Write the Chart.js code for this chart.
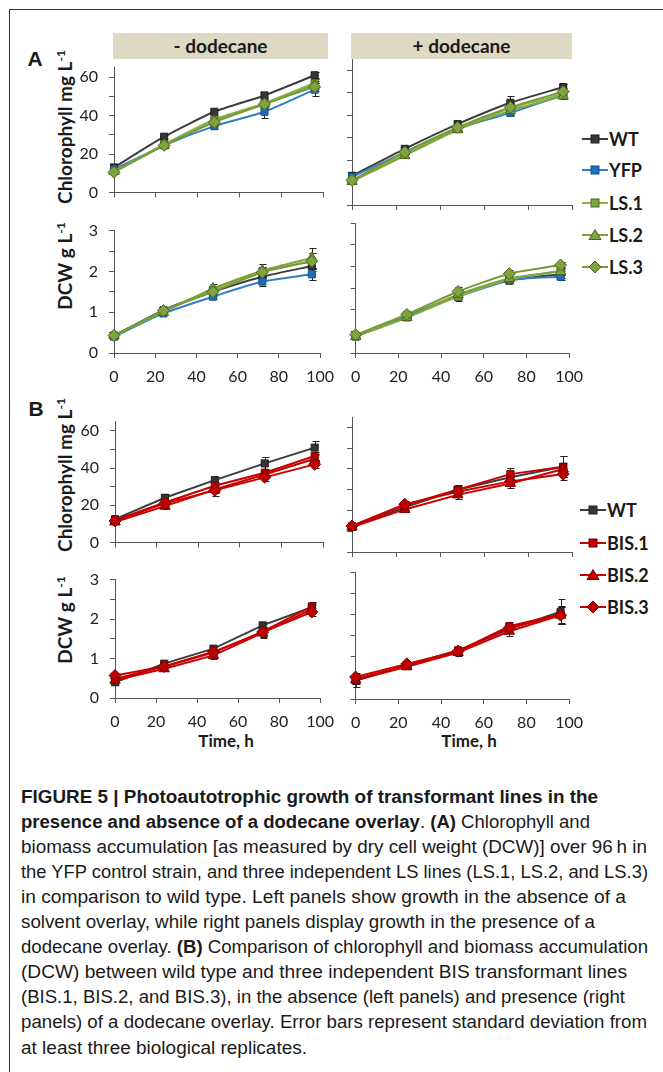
<!DOCTYPE html>
<html>
<head>
<meta charset="utf-8">
<script src="https://cdn.jsdelivr.net/npm/chart.js@4.4.1/dist/chart.umd.min.js"></script>
<style>
  body { margin: 0; width: 663px; height: 1072px; position: relative; overflow: hidden; background: #fff; color: #1a1a1a; font-family: Lato, "Open Sans", sans-serif; }
  canvas { position: absolute; }
  .frame { position: absolute; left: 9px; top: 9px; width: 700px; height: 1100px; border-left: 1px solid #333; border-top: 1px solid #333; }
  .hdr { position: absolute; top: 33px; height: 26px; line-height: 26px; background: #ddd9c3; font-weight: bold; font-size: 19px; text-align: center; }
  .letter { position: absolute; font-family: "Liberation Sans", Arial, sans-serif; font-weight: bold; font-size: 21px; transform: translate(-50%, -50%); }
  .ytitle { position: absolute; font-weight: bold; font-size: 19px; white-space: nowrap; transform: translate(-50%, -50%) rotate(-90deg); }
  .ytitle sup { font-size: 12px; vertical-align: 7px; }
  .xtitle { position: absolute; font-weight: bold; font-size: 17px; white-space: nowrap; transform: translate(-50%, -50%); }
  .leg { position: absolute; display: flex; align-items: center; font-weight: bold; font-size: 18px; white-space: nowrap; transform: translateY(-50%); }
  .leg svg { margin-right: 1px; }
  .cap { position: absolute; left: 21px; font-family: "Liberation Sans", Arial, sans-serif; font-size: 17.5px; line-height: 25px; white-space: nowrap; transform-origin: left center; color: #1a1a1a; }
</style>
</head>
<body>
<div class="frame"></div>
<div class="hdr" style="left:113px;width:215px">- dodecane</div>
<div class="hdr" style="left:351px;width:221px">+ dodecane</div>
<div class="letter" style="left:35px;top:59px">A</div>
<div class="letter" style="left:36px;top:409px">B</div>
<div class="ytitle" style="left:64px;top:127px">Chlorophyll mg L<sup>-1</sup></div>
<div class="ytitle" style="left:64px;top:266px">DCW g L<sup>-1</sup></div>
<div class="ytitle" style="left:64px;top:475px">Chlorophyll mg L<sup>-1</sup></div>
<div class="ytitle" style="left:64px;top:620px">DCW g L<sup>-1</sup></div>
<div class="xtitle" style="left:226px;top:740px">Time, h</div>
<div class="xtitle" style="left:469px;top:740px">Time, h</div>
<div id="legends"></div>
<div id="caption"></div>

<script>
// sampling times (h)
const hours = [0, 24, 48, 72, 96];

// Panel A series, in legend order
const seriesA = ['WT', 'YFP', 'LS.1', 'LS.2', 'LS.3'];
// Panel B series
const seriesB = ['WT', 'BIS.1', 'BIS.2', 'BIS.3'];

// A, chlorophyll, - dodecane
const aChlMinus = [
  [13, 29, 42, 50.5, 61],
  [12, 24.5, 34.5, 42, 53.5],
  [11, 25, 38, 46.5, 57],
  [11, 24.5, 37, 46, 56],
  [10.5, 24.5, 36.5, 46, 55]
];
const aChlMinusSD = [
  [1, 1, 1.5, 1.5, 1.5],
  [1, 1, 1.5, 3, 3.5],
  [1, 1.5, 2, 2, 2],
  [1, 1.5, 2, 2, 2],
  [1, 1.5, 2, 2, 2]
];
// A, chlorophyll, + dodecane
const aChlPlus = [
  [13, 25, 36, 45.5, 52.5],
  [12.5, 23.5, 34, 41, 49],
  [11, 22.5, 34, 43, 49.5],
  [10.5, 22, 33.5, 42, 48.5],
  [11, 23.5, 34.5, 43.5, 50.5]
];
const aChlPlusSD = [
  [1, 1, 1, 3, 1.5],
  [1, 1, 1, 1.5, 1.5],
  [1, 1, 1, 2, 1.5],
  [1, 1, 1, 2, 1.5],
  [1, 1, 1, 2, 1.5]
];
// A, DCW, - dodecane
const aDcwMinus = [
  [0.42, 1.05, 1.5, 1.87, 2.13],
  [0.4, 0.97, 1.38, 1.75, 1.93],
  [0.43, 1.02, 1.55, 2.0, 2.25],
  [0.43, 1.0, 1.58, 2.02, 2.33],
  [0.43, 1.04, 1.5, 1.98, 2.25]
];
const aDcwMinusSD = [
  [0.05, 0.05, 0.08, 0.1, 0.12],
  [0.05, 0.05, 0.06, 0.1, 0.15],
  [0.05, 0.05, 0.1, 0.12, 0.2],
  [0.05, 0.06, 0.1, 0.15, 0.25],
  [0.05, 0.06, 0.1, 0.12, 0.2]
];
// A, DCW, + dodecane
const aDcwPlus = [
  [0.38, 0.85, 1.33, 1.67, 1.82],
  [0.4, 0.87, 1.3, 1.68, 1.76],
  [0.4, 0.82, 1.3, 1.7, 1.9],
  [0.38, 0.82, 1.35, 1.72, 1.88],
  [0.42, 0.89, 1.42, 1.83, 2.03]
];
const aDcwPlusSD = [
  [0.05, 0.05, 0.06, 0.06, 0.08],
  [0.05, 0.05, 0.06, 0.06, 0.08],
  [0.05, 0.05, 0.1, 0.08, 0.08],
  [0.05, 0.05, 0.1, 0.08, 0.08],
  [0.05, 0.05, 0.1, 0.08, 0.08]
];
// B, chlorophyll, - dodecane
const bChlMinus = [
  [12.5, 24, 33.5, 42.5, 51],
  [12, 21.5, 30.5, 37.5, 46.5],
  [11, 19.5, 28.5, 36.5, 45],
  [11.5, 21, 28, 35, 42]
];
const bChlMinusSD = [
  [1, 2, 1.5, 3.5, 3.5],
  [1, 1.5, 2, 2, 2],
  [1, 1.5, 2, 2, 2],
  [1, 1.5, 3, 2, 2]
];
// B, chlorophyll, + dodecane
const bChlPlus = [
  [12, 21.5, 30, 36, 41],
  [12.5, 22.5, 30, 37.5, 41],
  [12, 20.5, 27.5, 33, 40],
  [12.5, 23, 29, 34, 37.5]
];
const bChlPlusSD = [
  [1, 1.5, 2.5, 3, 5],
  [1, 1.5, 2, 3, 5],
  [1, 1, 2, 2, 3],
  [1, 1.5, 2, 2, 3]
];
// B, DCW, - dodecane
const bDcwMinus = [
  [0.4, 0.87, 1.25, 1.84, 2.3],
  [0.48, 0.8, 1.15, 1.68, 2.32],
  [0.45, 0.74, 1.08, 1.65, 2.25],
  [0.57, 0.8, 1.17, 1.67, 2.18]
];
const bDcwMinusSD = [
  [0.08, 0.05, 0.05, 0.08, 0.1],
  [0.05, 0.05, 0.08, 0.12, 0.1],
  [0.05, 0.05, 0.08, 0.12, 0.1],
  [0.05, 0.05, 0.08, 0.12, 0.1]
];
// B, DCW, + dodecane
const bDcwPlus = [
  [0.43, 0.8, 1.15, 1.65, 2.06],
  [0.47, 0.8, 1.13, 1.72, 2.0],
  [0.45, 0.76, 1.1, 1.6, 1.98],
  [0.52, 0.83, 1.13, 1.68, 1.98]
];
const bDcwPlusSD = [
  [0.15, 0.05, 0.08, 0.1, 0.3],
  [0.1, 0.05, 0.08, 0.1, 0.2],
  [0.1, 0.05, 0.08, 0.12, 0.2],
  [0.1, 0.05, 0.08, 0.1, 0.2]
];

// axis ticks
const xTicks = [0, 20, 40, 60, 80, 100];
const chlTicks = [0, 10, 20, 30, 40, 50, 60];
const chlLabels = [0, 20, 40, 60];
const dcwTicks = [0, 0.5, 1, 1.5, 2, 2.5, 3];
const dcwLabels = [0, 1, 2, 3];

// series styles
const wtStyle = { line: '#3d3d3d', fill: '#363636', edge: '#1e1e1e', point: 'rect', r: 5 };
const stylesA = [
  wtStyle,
  { line: '#2f7fc8', fill: '#1f6fbf', edge: '#174f85', point: 'rect', r: 5 },
  { line: '#8db24c', fill: '#7fa33e', edge: '#4d6722', point: 'rect', r: 5 },
  { line: '#7fa33e', fill: '#7fa33e', edge: '#4d6722', point: 'triangle', r: 6 },
  { line: '#779b37', fill: '#7fa33e', edge: '#4d6722', point: 'rectRot', r: 6 }
];
const redStyle = (p, r) => ({ line: '#c80000', fill: '#c00000', edge: '#7a0000', point: p, r: r });
const stylesB = [wtStyle, redStyle('rect', 5), redStyle('triangle', 6), redStyle('rectRot', 6)];

const errorBars = {
  id: 'errorBars',
  beforeDatasetsDraw(chart) {
    const ctx = chart.ctx;
    const ys = chart.scales.y;
    ctx.save();
    ctx.strokeStyle = '#222';
    ctx.lineWidth = 1;
    chart.data.datasets.forEach((ds, i) => {
      const meta = chart.getDatasetMeta(i);
      meta.data.forEach((pt, j) => {
        const v = ds.data[j].y, e = ds.errors[j];
        const y1 = Math.round(ys.getPixelForValue(v + e)) + 0.5;
        const y2 = Math.round(ys.getPixelForValue(v - e)) + 0.5;
        const x = Math.round(pt.x) + 0.5;
        ctx.beginPath();
        ctx.moveTo(x, y1); ctx.lineTo(x, y2);
        ctx.moveTo(x - 3, y1); ctx.lineTo(x + 4, y1);
        ctx.moveTo(x - 3, y2); ctx.lineTo(x + 4, y2);
        ctx.stroke();
      });
    });
    ctx.restore();
  }
};

function panel(geom, names, values, errors, styles, kind, showY, showX, tension) {
  const yW = showY ? 40 : 10, rp = 20, tp = 12, xH = showX ? 38 : 8;
  const cv = document.createElement('canvas');
  const w = yW + (geom.R - geom.L) + rp, h = tp + (geom.B - geom.T) + xH;
  cv.width = w; cv.height = h;
  cv.style.left = (geom.L - yW) + 'px';
  cv.style.top = (geom.T - tp) + 'px';
  cv.style.width = w + 'px'; cv.style.height = h + 'px';
  document.body.appendChild(cv);

  const n = names.length;
  const datasets = names.map((name, i) => ({
    label: name,
    data: hours.map((t, j) => ({ x: t, y: values[i][j] })),
    errors: errors[i],
    borderColor: styles[i].line,
    borderWidth: 2,
    backgroundColor: styles[i].fill,
    pointBackgroundColor: styles[i].fill,
    pointBorderColor: styles[i].edge,
    pointBorderWidth: 1,
    pointStyle: styles[i].point,
    pointRadius: styles[i].r,
    tension: tension,
    clip: false,
    order: n - i
  }));

  const gridOpts = { drawOnChartArea: false, drawTicks: true, tickLength: 5, color: '#555' };
  const tickFont = { family: 'Lato', size: 16 };
  const yTicks = kind === 'chl' ? chlTicks : dcwTicks;
  const yLabels = kind === 'chl' ? chlLabels : dcwLabels;

  new Chart(cv, {
    type: 'line',
    data: { datasets },
    options: {
      responsive: false,
      animation: false,
      devicePixelRatio: 1,
      layout: { padding: { left: 0, right: rp, top: tp, bottom: 0 } },
      plugins: { legend: { display: false }, tooltip: { enabled: false } },
      scales: {
        x: {
          type: 'linear', min: 0, max: 100,
          afterBuildTicks: s => { s.ticks = xTicks.map(v => ({ value: v })); },
          ticks: { display: showX, autoSkip: false, maxRotation: 0, padding: 9, font: tickFont, color: '#222' },
          grid: gridOpts,
          border: { color: '#555', width: 1 },
          afterFit: s => { s.height = xH; }
        },
        y: {
          min: 0, max: kind === 'chl' ? 65 : 3,
          afterBuildTicks: s => { s.ticks = yTicks.map(v => ({ value: v })); },
          ticks: { display: showY, autoSkip: false, padding: 11, font: tickFont, color: '#222',
                   callback: v => (yLabels.includes(v) ? v : '') },
          grid: gridOpts,
          border: { color: '#555', width: 1 },
          afterFit: s => { s.width = yW; }
        }
      }
    },
    plugins: [errorBars]
  });
}

panel({ L: 114, R: 323, T: 59, B: 205 }, seriesA, aChlMinus, aChlMinusSD, stylesA, 'chl', true, false, 0.2);
panel({ L: 352, R: 572, T: 59, B: 205 }, seriesA, aChlPlus, aChlPlusSD, stylesA, 'chl', false, false, 0.2);
panel({ L: 114, R: 323, T: 222, B: 353 }, seriesA, aDcwMinus, aDcwMinusSD, stylesA, 'dcw', true, true, 0.2);
panel({ L: 352, R: 572, T: 223, B: 353 }, seriesA, aDcwPlus, aDcwPlusSD, stylesA, 'dcw', false, true, 0.2);
panel({ L: 115, R: 323, T: 413, B: 555 }, seriesB, bChlMinus, bChlMinusSD, stylesB, 'chl', true, false, 0);
panel({ L: 352, R: 572, T: 417, B: 552 }, seriesB, bChlPlus, bChlPlusSD, stylesB, 'chl', false, false, 0);
panel({ L: 115, R: 323, T: 571, B: 698 }, seriesB, bDcwMinus, bDcwMinusSD, stylesB, 'dcw', true, true, 0);
panel({ L: 352, R: 572, T: 572, B: 699 }, seriesB, bDcwPlus, bDcwPlusSD, stylesB, 'dcw', false, true, 0);

// legends: line with marker, then the name
function markerSvg(st) {
  let m;
  if (st.point === 'rect') m = '<rect x="9" y="3" width="8" height="8"/>';
  else if (st.point === 'triangle') m = '<polygon points="13,1.5 19,11.5 7,11.5"/>';
  else m = '<polygon points="13,1 19,7 13,13 7,7"/>';
  return '<svg width="26" height="14"><line x1="0" y1="7" x2="26" y2="7" stroke="' + st.line + '" stroke-width="2"/>' +
    '<g fill="' + st.fill + '" stroke="' + st.edge + '" stroke-width="1">' + m + '</g></svg>';
}
const legBox = document.getElementById('legends');
const legAy = [139, 170, 203, 235, 267];
const legBy = [510, 543, 575, 607];
seriesA.forEach((name, i) => {
  legBox.insertAdjacentHTML('beforeend', '<div class="leg" style="left:582px;top:' + legAy[i] + 'px">' + markerSvg(stylesA[i]) + name + '</div>');
});
seriesB.forEach((name, i) => {
  legBox.insertAdjacentHTML('beforeend', '<div class="leg" style="left:580px;top:' + legBy[i] + 'px">' + markerSvg(stylesB[i]) + name + '</div>');
});

// caption, each line squeezed to the width it has in the printed figure
const captionLines = [
  '<b>FIGURE 5 | Photoautotrophic growth of transformant lines in the</b>',
  '<b>presence and absence of a dodecane overlay</b>. <b>(A)</b> Chlorophyll and',
  'biomass accumulation [as measured by dry cell weight (DCW)] over 96\u2009h in',
  'the YFP control strain, and three independent LS lines (LS.1, LS.2, and LS.3)',
  'in comparison to wild type. Left panels show growth in the absence of a',
  'solvent overlay, while right panels display growth in the presence of a',
  'dodecane overlay. <b>(B)</b> Comparison of chlorophyll and biomass accumulation',
  '(DCW) between wild type and three independent BIS transformant lines',
  '(BIS.1, BIS.2, and BIS.3), in the absence (left panels) and presence (right',
  'panels) of a dodecane overlay. Error bars represent standard deviation from',
  'at least three biological replicates.'
];
const captionEnds = [598, 590, 647, 648, 626, 595, 648, 627, 625, 647, 307];
const capBox = document.getElementById('caption');
captionLines.forEach((txt, k) => {
  capBox.insertAdjacentHTML('beforeend', '<div class="cap" style="top:' + (797 + k * 25.1 - 12.5).toFixed(1) + 'px">' + txt + '</div>');
});
function fitCaption() {
  const lines = capBox.querySelectorAll('.cap');
  lines.forEach((el, k) => {
    el.style.transform = 'none';
    const sx = (captionEnds[k] - 21) / el.getBoundingClientRect().width;
    el.style.transform = 'scaleX(' + sx.toFixed(4) + ')';
  });
}
fitCaption();
if (document.fonts && document.fonts.ready) document.fonts.ready.then(fitCaption);
</script>
</body>
</html>
